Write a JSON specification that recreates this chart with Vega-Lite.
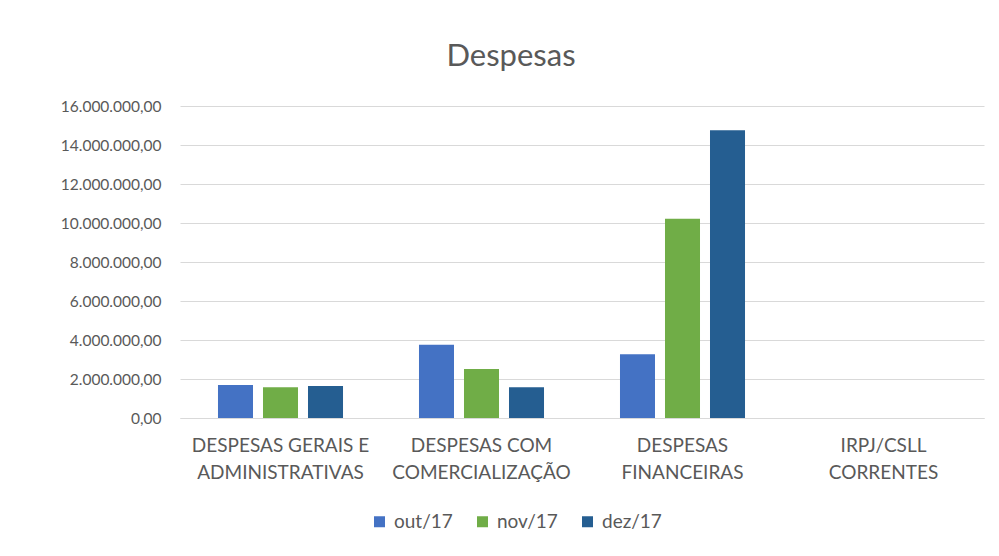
{
  "$schema": "https://vega.github.io/schema/vega-lite/v6.json",
  "autosize": {"type": "none"},
  "width": 804,
  "height": 312,
  "padding": {"left": 180, "top": 106, "right": 15, "bottom": 138},
  "background": "white",
  "title": {"text": "Despesas", "anchor": "middle", "dx": -71, "offset": 26, "fontSize": 31, "font": "Lato", "fontWeight": "normal", "color": "#595959"},
  "data": {"values": [
    {"categoria": "DESPESAS GERAIS E ADMINISTRATIVAS", "mes": "out/17", "valor": 1695000},
    {"categoria": "DESPESAS GERAIS E ADMINISTRATIVAS", "mes": "nov/17", "valor": 1576000},
    {"categoria": "DESPESAS GERAIS E ADMINISTRATIVAS", "mes": "dez/17", "valor": 1644000},
    {"categoria": "DESPESAS COM COMERCIALIZAÇÃO", "mes": "out/17", "valor": 3760000},
    {"categoria": "DESPESAS COM COMERCIALIZAÇÃO", "mes": "nov/17", "valor": 2510000},
    {"categoria": "DESPESAS COM COMERCIALIZAÇÃO", "mes": "dez/17", "valor": 1576000},
    {"categoria": "DESPESAS FINANCEIRAS", "mes": "out/17", "valor": 3270000},
    {"categoria": "DESPESAS FINANCEIRAS", "mes": "nov/17", "valor": 10220000},
    {"categoria": "DESPESAS FINANCEIRAS", "mes": "dez/17", "valor": 14755000},
    {"categoria": "IRPJ/CSLL CORRENTES", "mes": "out/17", "valor": 0},
    {"categoria": "IRPJ/CSLL CORRENTES", "mes": "nov/17", "valor": 0},
    {"categoria": "IRPJ/CSLL CORRENTES", "mes": "dez/17", "valor": 0}
  ]},
  "mark": {"type": "bar"},
  "encoding": {
    "x": {
      "field": "categoria", "type": "nominal", "sort": null,
      "scale": {"paddingInner": 0, "paddingOuter": 0},
      "axis": {
        "title": null, "labelAngle": 0, "ticks": false, "domain": true, "domainColor": "#D9D9D9",
        "labelPadding": 18, "labelFontSize": 19, "labelFont": "Lato", "labelColor": "#595959", "labelLineHeight": 27,
        "labelOverlap": false,
        "labelExpr": "datum.value == 'DESPESAS GERAIS E ADMINISTRATIVAS' ? ['DESPESAS GERAIS E', 'ADMINISTRATIVAS'] : datum.value == 'DESPESAS COM COMERCIALIZAÇÃO' ? ['DESPESAS COM', 'COMERCIALIZAÇÃO'] : datum.value == 'DESPESAS FINANCEIRAS' ? ['DESPESAS', 'FINANCEIRAS'] : ['IRPJ/CSLL', 'CORRENTES']"
      }
    },
    "xOffset": {"field": "mes", "type": "nominal", "sort": ["out/17", "nov/17", "dez/17"], "scale": {"paddingInner": 0.222, "paddingOuter": 0.844}},
    "y": {
      "field": "valor", "type": "quantitative",
      "scale": {"domain": [0, 16000000], "nice": false},
      "axis": {
        "title": null, "values": [0, 2000000, 4000000, 6000000, 8000000, 10000000, 12000000, 14000000, 16000000],
        "format": ",.2f", "ticks": false, "domain": false, "grid": true, "gridColor": "#D9D9D9", "gridWidth": 1,
        "labelOverlap": false, "labelFlush": false,
        "labelPadding": 19, "labelFontSize": 15.5, "labelFont": "Lato", "labelColor": "#595959"
      }
    },
    "color": {
      "field": "mes", "type": "nominal",
      "scale": {"domain": ["out/17", "nov/17", "dez/17"], "range": ["#4472C4", "#70AD47", "#255E91"]},
      "legend": {
        "title": null, "orient": "none", "legendX": 190, "legendY": 406, "direction": "horizontal",
        "symbolType": "square", "symbolSize": 121, "symbolStrokeWidth": 0, "labelFontSize": 19, "labelFont": "Lato",
        "labelColor": "#595959", "columnPadding": 20, "labelOffset": 5
      }
    }
  },
  "config": {
    "locale": {"number": {"decimal": ",", "thousands": ".", "grouping": [3], "currency": ["R$", ""]}},
    "view": {"stroke": null}
  }
}
